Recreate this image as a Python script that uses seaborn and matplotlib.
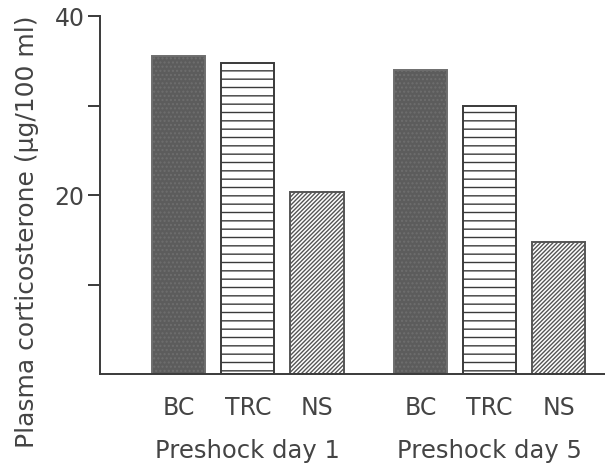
import matplotlib
matplotlib.use("Agg")
import matplotlib.pyplot as plt
import seaborn as sns
import pandas as pd
import numpy as np

groups = ["Preshock day 1", "Preshock day 5"]
conditions = ["BC", "TRC", "NS"]
values_day1 = [35.5, 34.7, 20.3]
values_day5 = [34.0, 29.9, 14.7]
y_ticks_major = [20, 40]
y_ticks_minor = [10, 30]

sns.set_theme(style="white")
plt.rcParams['font.family'] = ['DejaVu Sans']
plt.rcParams['hatch.linewidth'] = 1.0

ink = "#3a3a3a"
txt = "#444444"
rows = []
for gi, (g, vals) in enumerate(zip(groups, [values_day1, values_day5])):
    for ci, (c, v) in enumerate(zip(conditions, vals)):
        rows.append({"pos": gi * 3.5 + ci, "cond": c, "group": g, "value": v})
df = pd.DataFrame(rows)

fig = plt.figure(figsize=(6.05, 4.64), dpi=100)
ax = fig.add_axes([100/605, 89/464, 505/605, 358/464])

sns.barplot(data=df, x="pos", y="value", native_scale=True, width=0.77,
            color="white", edgecolor=ink, linewidth=1.4, ax=ax, errorbar=None)

styles = {"BC": dict(fc="#5c5c5c", hatch="....", ec="#6e6e6e"),
          "TRC": dict(fc="white", hatch="--", ec=ink),
          "NS": dict(fc="white", hatch="////////", ec="#555555")}
for patch, cond in zip(ax.patches, df["cond"]):
    st = styles[cond]
    patch.set_facecolor(st["fc"])
    patch.set_hatch(st["hatch"])
    patch.set_edgecolor(st["ec"])

ax.set_xlim(-1.14, 6.17)
ax.set_ylim(0, 40)
for s in ["top", "right"]:
    ax.spines[s].set_visible(False)
for s in ["left", "bottom"]:
    ax.spines[s].set_color(ink)
    ax.spines[s].set_linewidth(1.4)

ax.set_yticks(y_ticks_major)
ax.set_yticks(y_ticks_minor, minor=True)
ax.tick_params(axis="y", which="both", direction="out", length=9, width=1.4,
               color=ink, labelsize=17, labelcolor=txt, left=True, pad=2)
ax.set_xticks(df["pos"])
ax.set_xticklabels(df["cond"])
ax.tick_params(axis="x", length=0, pad=15, labelsize=17, labelcolor=txt)
ax.set_xlabel("")
ax.set_ylabel("Plasma corticosterone (μg/100 ml)", fontsize=18, color=txt)
ax.yaxis.set_label_coords(-0.12, 0.40)

for gi, g in enumerate(groups):
    center = gi * 3.5 + 1
    ax.text(center, -8.5, g, ha="center", va="center", fontsize=17.5, color=txt,
            transform=ax.transData, clip_on=False)

fig.savefig("out.png", dpi=100)
